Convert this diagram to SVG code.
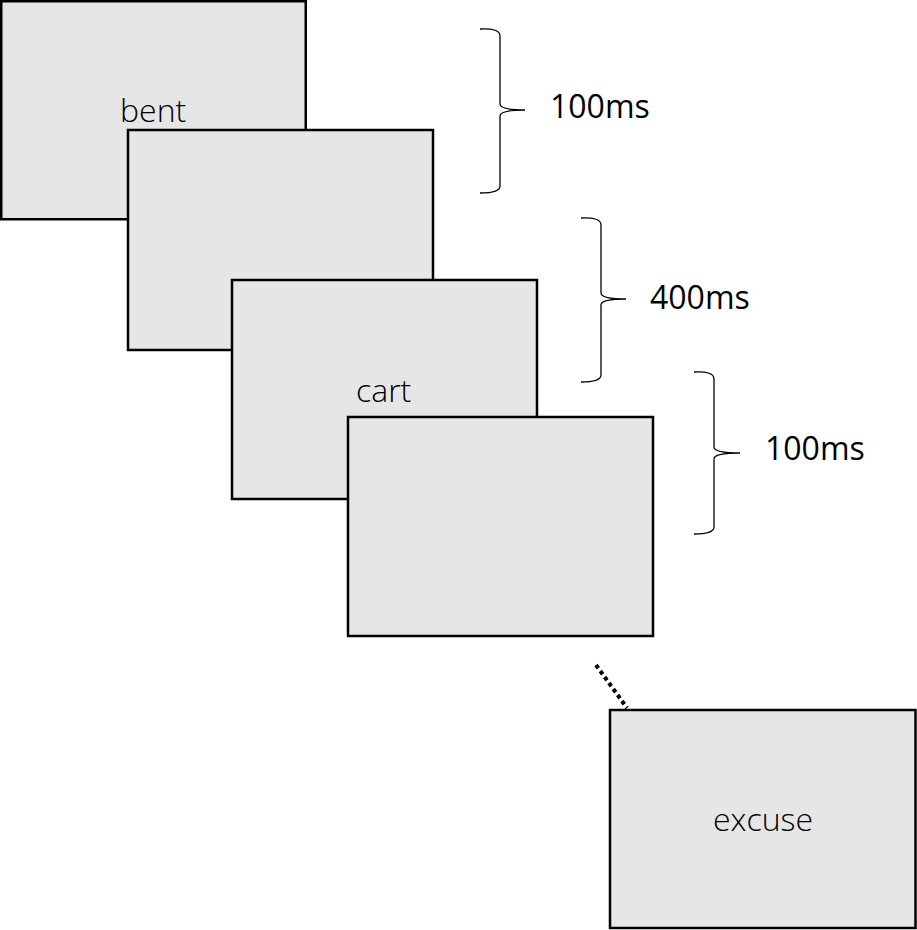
<svg xmlns="http://www.w3.org/2000/svg" width="917" height="930" viewBox="0 0 917 930">
<style>
.box{fill:#e6e6e6;stroke:#000;stroke-width:2.5}
.lbl{font-family:"Open Sans","Liberation Sans",sans-serif;font-size:32px;fill:#000}
.word{font-weight:300}
.brace{fill:none;stroke:#000;stroke-width:1.3}
</style>
<rect width="917" height="930" fill="#fff"/>
<g id="screen1"><rect class="box" x="1.25" y="1.25" width="304.5" height="218"/><text class="lbl word" x="120" y="122">bent</text></g>
<g id="screen2"><rect class="box" x="128" y="130" width="305" height="220"/></g>
<g id="screen3"><rect class="box" x="232" y="280" width="305" height="219"/><text class="lbl word" x="356" y="402">cart</text></g>
<g id="screen4"><rect class="box" x="348" y="417" width="305" height="219"/></g>
<g id="screen5"><rect class="box" x="610" y="710" width="305.5" height="218"/><text class="lbl word" x="713" y="831">excuse</text></g>
<g id="connectors">
<line x1="596" y1="665" x2="627" y2="708" stroke="#000" stroke-width="4" stroke-dasharray="4 3.4"/>
</g>
<g id="timing1">
<path class="brace" d="M480,29 Q500,28 500,36 L500,104 Q500,110 525,110 Q500,110 500,116 L500,186 Q500,193 480,193"/>
<text class="lbl" x="550" y="118">100ms</text>
</g>
<g id="timing2">
<path class="brace" d="M581,218 Q601,217 601,225 L601,293 Q601,299 626,299 Q601,299 601,305 L601,375 Q601,382 581,382"/>
<text class="lbl" x="650" y="309">400ms</text>
</g>
<g id="timing3">
<path class="brace" d="M694,372 Q714,371 714,379 L714,447 Q714,453 740,453 Q714,453 714,459 L714,527 Q714,534 694,534"/>
<text class="lbl" x="765" y="460">100ms</text>
</g>
</svg>
